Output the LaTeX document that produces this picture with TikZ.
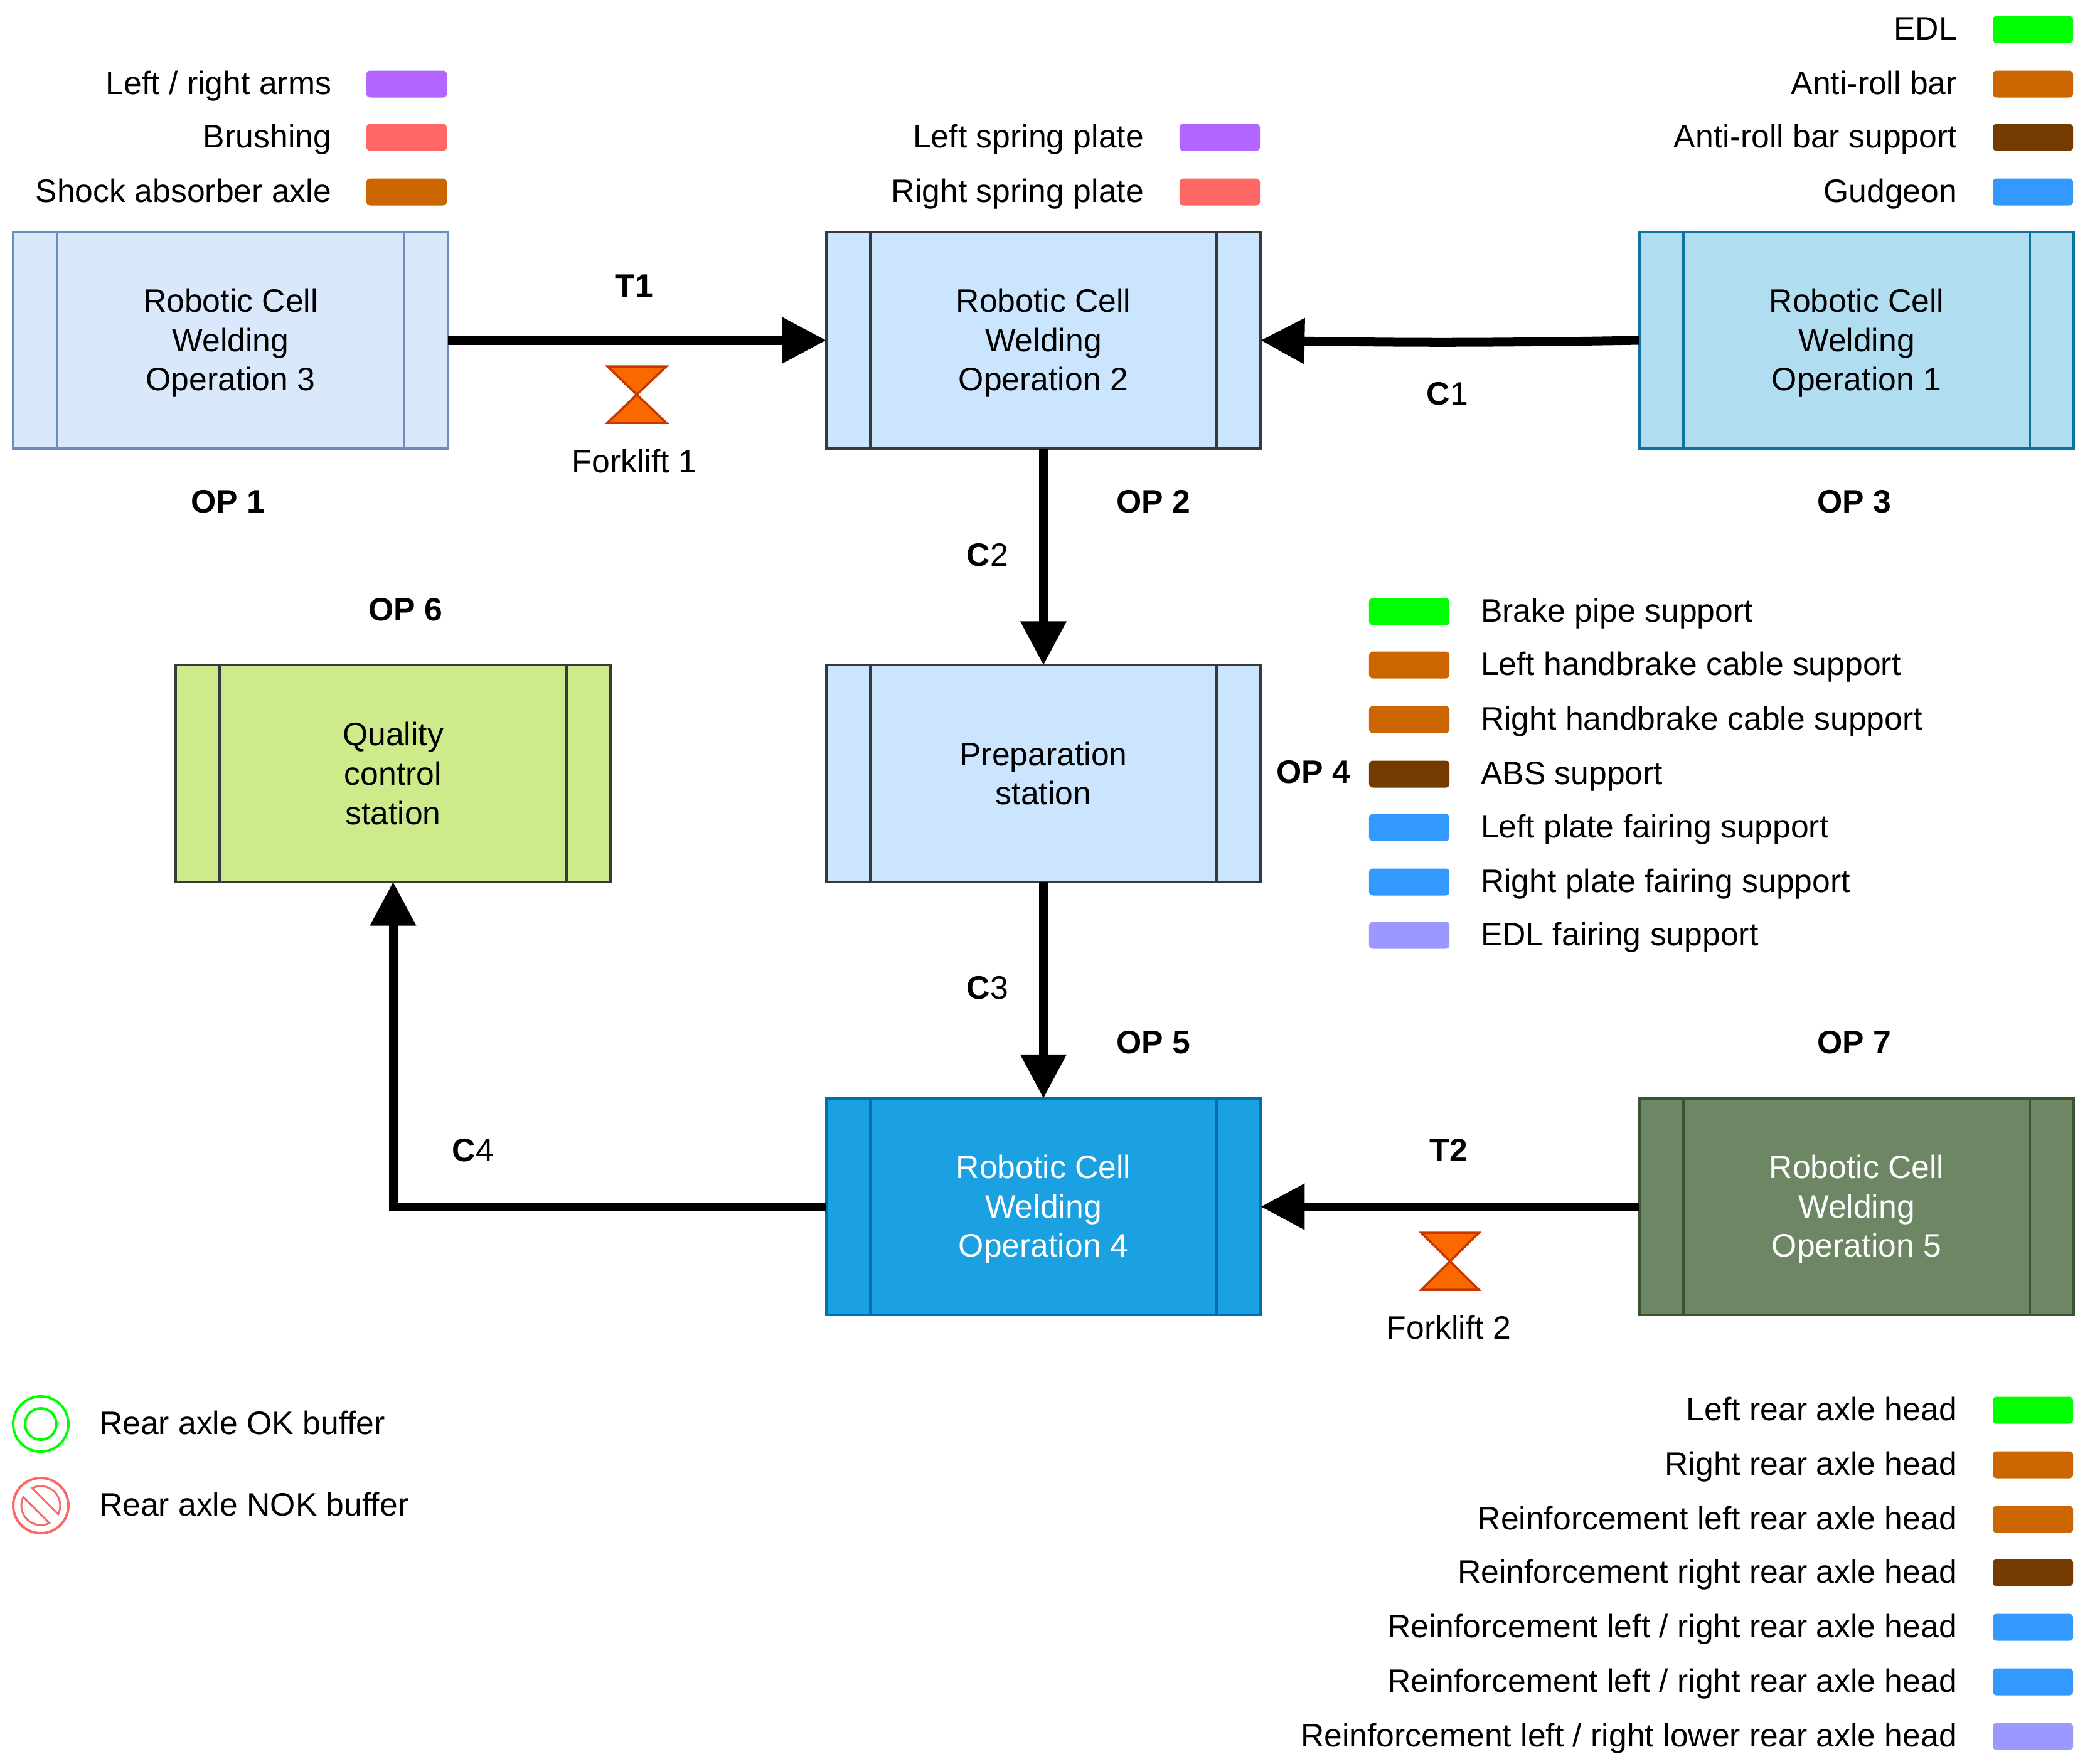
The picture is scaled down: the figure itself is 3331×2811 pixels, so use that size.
\documentclass[tikz,border=0pt]{standalone}
\usepackage{fontspec}
\setmainfont{Liberation Sans}
\usetikzlibrary{arrows.meta}
\definecolor{swviolet}{HTML}{B266FF}
\definecolor{swred}{HTML}{FF6666}
\definecolor{sworange}{HTML}{CC6600}
\definecolor{swbrown}{HTML}{733B00}
\definecolor{swgreen}{HTML}{00FF00}
\definecolor{swblue}{HTML}{3399FF}
\definecolor{swlilac}{HTML}{9999FF}
\begin{document}
\begin{tikzpicture}[x=0.01cm,y=0.01cm]
        \tikzstyle{every node}+=[inner sep=0pt,outer sep=0pt]
        \tikzstyle{opbox}=[draw,line width=0.04cm,minimum width=6.92cm,minimum height=3.45cm,align=center,
          font=\fontsize{14.7}{17.8}\selectfont,
          path picture={\draw ([xshift=0.7cm]path picture bounding box.north west) -- ([xshift=0.7cm]path picture bounding box.south west);
            \draw ([xshift=-0.7cm]path picture bounding box.north east) -- ([xshift=-0.7cm]path picture bounding box.south east);}]
        \tikzstyle{cellbox}=[opbox,text height=48.6pt]
        \tikzstyle{lbl}=[font=\fontsize{14.7}{17.8}\selectfont,text height=0.41cm,text depth=0.08cm]
        \tikzstyle{lblr}=[lbl,anchor=east]
        \tikzstyle{lbll}=[lbl,anchor=west]
        \tikzstyle{swatch}=[rounded corners=0.06cm,minimum width=1.28cm,minimum height=0.43cm]
        \tikzstyle{flow}=[line width=0.14cm,-{Triangle[length=0.7cm,width=0.7cm]}]
        \tikzstyle{hourglass}=[draw={rgb,255:red,199;green,53;blue,0},fill={rgb,255:red,250;green,104;blue,0},line width=0.035cm]
        \useasboundingbox (0,0) rectangle (3331,-2811);
        % stations
        \node [cellbox,fill={rgb,255:red,218;green,232;blue,252},draw={rgb,255:red,108;green,142;blue,191}] (op1) at (367.5,-542.5) {Robotic Cell\\Welding\\Operation 3};
        \node [cellbox,fill={rgb,255:red,204;green,229;blue,255},draw={rgb,255:red,54;green,57;blue,61}] (op2) at (1663,-542.5) {Robotic Cell\\Welding\\Operation 2};
        \node [cellbox,fill={rgb,255:red,177;green,221;blue,240},draw={rgb,255:red,16;green,115;blue,158}] (op3) at (2959,-542.5) {Robotic Cell\\Welding\\Operation 1};
        \node [opbox,fill={rgb,255:red,205;green,235;blue,139},draw={rgb,255:red,54;green,57;blue,61}] (op6) at (626.5,-1233) {Quality\\control\\station};
        \node [opbox,fill={rgb,255:red,204;green,229;blue,255},draw={rgb,255:red,54;green,57;blue,61}] (op4) at (1663,-1233) {Preparation\\station};
        \node [cellbox,text=white,fill={rgb,255:red,27;green,161;blue,226},draw={rgb,255:red,0;green,110;blue,175}] (op5) at (1663,-1923.5) {Robotic Cell\\Welding\\Operation 4};
        \node [cellbox,text=white,fill={rgb,255:red,109;green,135;blue,100},draw={rgb,255:red,58;green,84;blue,49}] (op7) at (2959,-1923.5) {Robotic Cell\\Welding\\Operation 5};
        % connectors
        \draw [flow] (op1) -- (op2);
        \draw [flow] (op3.west) to [bend left=1] (op2.east);
        \draw [flow] (op2) -- (op4);
        \draw [flow] (op4) -- (op5);
        \draw [flow] (op7) -- (op5);
        \draw [flow] (op5.west) -| (op6.south);
        \node [lbl] (t1) at (1011,-457) {\textbf{T1}};
        \node [lbl] (c1) at (2307,-629) {\textbf{C}1};
        \node [lbl] (c2) at (1574,-886) {\textbf{C}2};
        \node [lbl] (c3) at (1574,-1576) {\textbf{C}3};
        \node [lbl] (c4) at (754,-1835) {\textbf{C}4};
        \node [lbl] (t2) at (2309,-1835) {\textbf{T2}};
        % forklifts
        \draw [hourglass] (968,-584) -- (1062,-584) -- (968,-674) -- (1062,-674) -- cycle;
        \node [lbl] (fork1) at (1011,-737) {Forklift 1};
        \draw [hourglass] (2265,-1965) -- (2357,-1965) -- (2265,-2056) -- (2357,-2056) -- cycle;
        \node [lbl] (fork2) at (2309,-2118) {Forklift 2};
        % station names
        \node [lbl] (name1) at (363,-801) {\textbf{OP 1}};
        \node [lbl] (name2) at (1838,-801) {\textbf{OP 2}};
        \node [lbl] (name3) at (2955,-801) {\textbf{OP 3}};
        \node [lbl] (name6) at (646,-973) {\textbf{OP 6}};
        \node [lbl] (name4) at (2093,-1232) {\textbf{OP 4}};
        \node [lbl] (name5) at (1838,-1663) {\textbf{OP 5}};
        \node [lbl] (name7) at (2955,-1663) {\textbf{OP 7}};
        % parts at op1
        \node [swatch,fill=swviolet] (swarms) at (648,-134) {};
        \node [lblr] (arms) at (528,-134) {Left / right arms};
        \node [swatch,fill=swred] (swbrush) at (648,-219) {};
        \node [lblr] (brush) at (528,-219) {Brushing};
        \node [swatch,fill=sworange] (swshock) at (648,-306) {};
        \node [lblr] (shock) at (528,-306) {Shock absorber axle};
        % parts at op2
        \node [swatch,fill=swviolet] (swspringl) at (1944,-219) {};
        \node [lblr] (springl) at (1823,-219) {Left spring plate};
        \node [swatch,fill=swred] (swspringr) at (1944,-306) {};
        \node [lblr] (springr) at (1823,-306) {Right spring plate};
        % parts at op3
        \node [swatch,fill=swgreen] (swedl) at (3240,-47) {};
        \node [lblr] (edl) at (3119,-47) {EDL};
        \node [swatch,fill=sworange] (swbar) at (3240,-134) {};
        \node [lblr] (bar) at (3119,-134) {Anti-roll bar};
        \node [swatch,fill=swbrown] (swbarsup) at (3240,-219) {};
        \node [lblr] (barsup) at (3119,-219) {Anti-roll bar support};
        \node [swatch,fill=swblue] (swgudgeon) at (3240,-306) {};
        \node [lblr] (gudgeon) at (3119,-306) {Gudgeon};
        % parts at op4
        \node [swatch,fill=swgreen] (swbrake) at (2246,-975) {};
        \node [lbll] (brake) at (2360,-975) {Brake pipe support};
        \node [swatch,fill=sworange] (swcablel) at (2246,-1060) {};
        \node [lbll] (cablel) at (2360,-1060) {Left handbrake cable support};
        \node [swatch,fill=sworange] (swcabler) at (2246,-1147) {};
        \node [lbll] (cabler) at (2360,-1147) {Right handbrake cable support};
        \node [swatch,fill=swbrown] (swabs) at (2246,-1234) {};
        \node [lbll] (abs) at (2360,-1234) {ABS support};
        \node [swatch,fill=swblue] (swfairl) at (2246,-1319) {};
        \node [lbll] (fairl) at (2360,-1319) {Left plate fairing support};
        \node [swatch,fill=swblue] (swfairr) at (2246,-1406) {};
        \node [lbll] (fairr) at (2360,-1406) {Right plate fairing support};
        \node [swatch,fill=swlilac] (swfairedl) at (2246,-1491) {};
        \node [lbll] (fairedl) at (2360,-1491) {EDL fairing support};
        % parts at op7
        \node [swatch,fill=swgreen] (swheadl) at (3240,-2248) {};
        \node [lblr] (headl) at (3119,-2248) {Left rear axle head};
        \node [swatch,fill=sworange] (swheadr) at (3240,-2335) {};
        \node [lblr] (headr) at (3119,-2335) {Right rear axle head};
        \node [swatch,fill=sworange] (swreinl) at (3240,-2422) {};
        \node [lblr] (reinl) at (3119,-2422) {Reinforcement left rear axle head};
        \node [swatch,fill=swbrown] (swreinr) at (3240,-2507) {};
        \node [lblr] (reinr) at (3119,-2507) {Reinforcement right rear axle head};
        \node [swatch,fill=swblue] (swreina) at (3240,-2594) {};
        \node [lblr] (reina) at (3119,-2594) {Reinforcement left / right rear axle head};
        \node [swatch,fill=swblue] (swreinb) at (3240,-2681) {};
        \node [lblr] (reinb) at (3119,-2681) {Reinforcement left / right rear axle head};
        \node [swatch,fill=swlilac] (swreinc) at (3240,-2768) {};
        \node [lblr] (reinc) at (3119,-2768) {Reinforcement left / right lower rear axle head};
        % buffers
        \draw [swgreen,line width=0.04cm] (65,-2270) circle (44);
        \draw [swgreen,line width=0.04cm] (65,-2270) circle (25);
        \node [lbll] (okbuf) at (158,-2270) {Rear axle OK buffer};
        \draw [swred,line width=0.04cm] (65,-2400) circle (44);
        \draw [swred,line width=0.03cm] (65,-2400) ++(-26.2:31) arc (-26.2:116.2:31) -- cycle;
        \draw [swred,line width=0.03cm] (65,-2400) ++(153.8:31) arc (153.8:296.2:31) -- cycle;
        \node [lbll] (nokbuf) at (158,-2400) {Rear axle NOK buffer};
\end{tikzpicture}
\end{document}
